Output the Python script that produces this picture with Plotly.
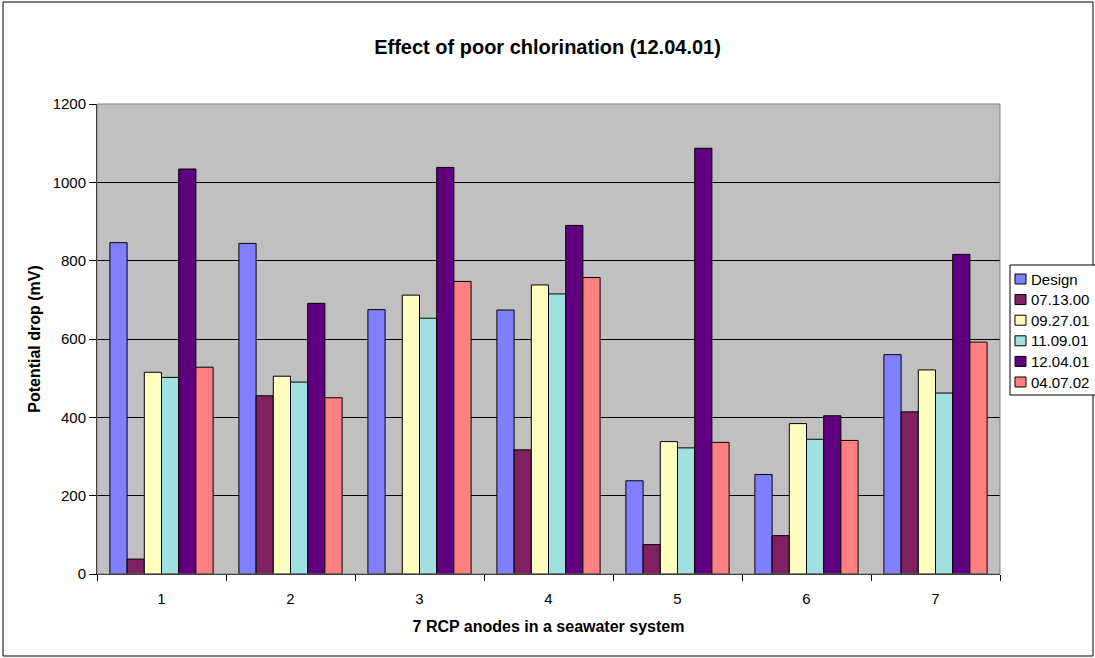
import plotly.graph_objects as go

categories = ["1", "2", "3", "4", "5", "6", "7"]
series_names = ["Design", "07.13.00", "09.27.01", "11.09.01", "12.04.01", "04.07.02"]
design = [846, 844, 675, 674, 238, 254, 560]
d071300 = [38, 455, 0, 317, 75, 98, 414]
d092701 = [515, 505, 712, 738, 338, 384, 521]
d110901 = [502, 490, 653, 715, 322, 344, 462]
d120401 = [1034, 691, 1038, 890, 1087, 404, 816]
d040702 = [528, 450, 747, 757, 336, 341, 592]
colors = ["#8080FF", "#802060", "#FFFFC0", "#A0E0E0", "#600080", "#FF8080"]

series_values = [design, d071300, d092701, d110901, d120401, d040702]

fig = go.Figure()
for name, vals, col in zip(series_names, series_values, colors):
    fig.add_trace(go.Bar(
        x=categories, y=vals, name=name, showlegend=False,
        marker=dict(color=col, line=dict(color="#000000", width=1)),
    ))

font_family = "Liberation Sans, Arial, sans-serif"
L, R, T, B = 97, 95, 104, 84
W, H = 1095, 658
pw, ph = W - L - R, H - T - B


def px(x):
    return (x - L) / pw


def py(y):
    return (H - B - y) / ph


# Legend drawn as paper-anchored box, swatches and labels
shapes = [
    dict(type="rect", xref="paper", yref="paper", x0=0, x1=1, y0=0, y1=1,
         line=dict(color="#808080", width=1), fillcolor="rgba(0,0,0,0)", layer="above"),
    dict(type="rect", xref="paper", yref="paper",
         x0=px(3), x1=px(1093), y0=py(656), y1=py(2),
         line=dict(color="#000000", width=1), fillcolor="rgba(0,0,0,0)", layer="above"),
    dict(type="rect", xref="paper", yref="paper",
         x0=px(1010), x1=px(1110), y0=py(395), y1=py(265),
         line=dict(color="#000000", width=1), fillcolor="#FFFFFF", layer="above"),
]
annotations = []
item_y0, item_dy = 279, 20.6
for i, (name, col) in enumerate(zip(series_names, colors)):
    yc = item_y0 + i * item_dy
    shapes.append(dict(type="rect", xref="paper", yref="paper",
                       x0=px(1015), x1=px(1026), y0=py(yc + 5), y1=py(yc - 5),
                       line=dict(color="#000000", width=1), fillcolor=col, layer="above"))
    annotations.append(dict(text=name, xref="paper", yref="paper", x=px(1029), y=py(yc),
                            xanchor="left", yanchor="middle", showarrow=False,
                            font=dict(size=15, family=font_family, color="#000000")))

fig.update_layout(
    width=W, height=H,
    margin=dict(l=L, r=R, t=T, b=B, pad=0, autoexpand=False),
    barmode="group", bargap=0.2, bargroupgap=0,
    paper_bgcolor="#FFFFFF", plot_bgcolor="#C0C0C0",
    font=dict(family=font_family, size=15, color="#000000"),
    title=dict(text="<b>Effect of poor chlorination (12.04.01)</b>",
               x=0.5, xanchor="center", y=1 - 47 / H, yanchor="middle",
               font=dict(size=20, family=font_family, color="#000000")),
    showlegend=False,
    xaxis=dict(
        type="category", showgrid=False, showline=True, linecolor="#000000", linewidth=1,
        ticks="outside", tickson="boundaries", ticklen=6, tickcolor="#000000",
        tickfont=dict(size=15), zeroline=False, ticklabelstandoff=11,
        title=dict(text="<b>7 RCP anodes in a seawater system</b>", font=dict(size=16), standoff=14),
    ),
    yaxis=dict(
        range=[0, 1200], dtick=200, showgrid=True, gridcolor="#000000", gridwidth=1,
        showline=True, linecolor="#000000", linewidth=1, ticks="outside", ticklen=7,
        tickcolor="#000000", tickfont=dict(size=15), zeroline=False,
        title=dict(text="<b>Potential drop (mV)</b>", font=dict(size=16), standoff=8),
    ),
    shapes=shapes,
    annotations=annotations,
)

fig.write_html("out.html", config={"displayModeBar": False},
               post_script="document.body.style.margin='0';document.body.style.overflow='hidden';")
